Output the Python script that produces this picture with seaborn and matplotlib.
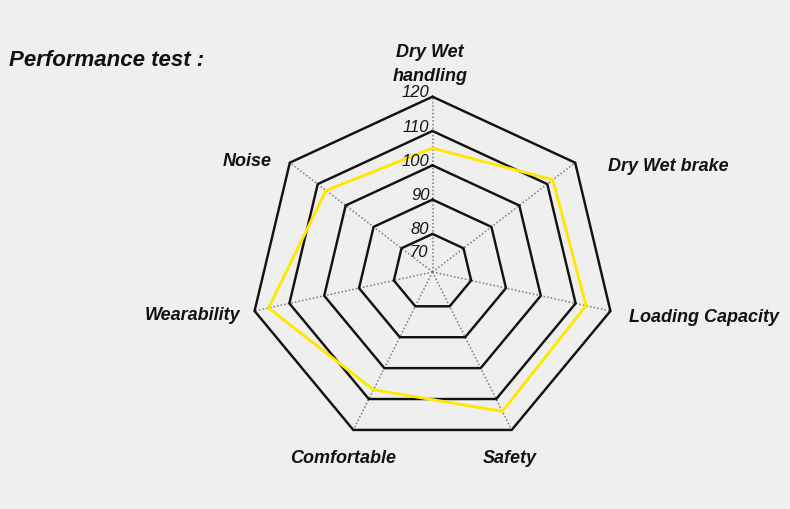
import numpy as np
import matplotlib
matplotlib.use('Agg')
import matplotlib.pyplot as plt
import seaborn as sns
import pandas as pd

# ---- data ----
categories = ["Dry Wet\nhandling", "Dry Wet brake", "Loading Capacity", "Safety",
              "Comfortable", "Wearability", "Noise"]
values = [105, 112, 113, 114, 107, 116, 107]
ring_levels = [80, 90, 100, 110, 120]
tick_values = [70, 80, 90, 100, 110, 120]
tick_labels = ["70", "80", "90", "100", "110", "120"]
title = "Performance test :"

sns.set_theme(style="white")
plt.rcParams['font.family'] = ['Liberation Sans', 'DejaVu Sans']

BG = '#efefef'
W, H = 790, 510
fig = plt.figure(figsize=(7.9, 5.1), dpi=100, facecolor=BG)

cx, cy = 432.5, 273.0      # centre in pixels (from top-left)
rx, ry = 182.5, 175.3      # outer radii in pixels
ax = fig.add_axes([(cx - rx) / W, (H - cy - ry) / H, 2 * rx / W, 2 * ry / H],
                  projection='polar')
ax.set_aspect('auto')
ax.set_facecolor('none')
ax.set_theta_offset(np.pi / 2)
ax.set_theta_direction(-1)

n = len(categories)
theta = np.arange(n) * 2 * np.pi / n
theta_c = np.append(theta, 2 * np.pi)
rmin = 68.9
ax.set_ylim(rmin, 120)

# dotted spokes
for t in theta:
    ax.plot([t, t], [rmin, 120], color='#7a7a7a', lw=1.1, ls=(0, (1, 1.4)),
            clip_on=False, zorder=1)
# heptagon rings
for lv in ring_levels:
    ax.plot(theta_c, [lv] * (n + 1), color='#141111', lw=1.75, clip_on=False,
            solid_joinstyle='miter', zorder=2)

df = pd.DataFrame({'theta': theta_c, 'value': values + values[:1]})
sns.lineplot(data=df, x='theta', y='value', sort=False, estimator=None, ax=ax,
             color='#ffe800', lw=2.1, clip_on=False, zorder=3)

ax.grid(False)
ax.set_xticks([])
ax.set_yticks([])
ax.set_xlabel('')
ax.set_ylabel('')
ax.spines['polar'].set_visible(False)

# radial tick labels
for v, lab in zip(tick_values, tick_labels):
    dy = 16.5 if v == 70 else 5
    dx = -5 if v == 70 else -3
    ax.annotate(lab, xy=(0, v), xytext=(dx, dy), textcoords='offset pixels',
                ha='right', va='center', fontsize=12, style='italic',
                color='#141111', annotation_clip=False)

# category labels
lab_pos = [(430, 64.5, 'center'), (608, 167, 'left'), (629, 318, 'left'),
           (510, 459, 'center'), (343, 459, 'center'), (240, 315, 'right'),
           (272, 161, 'right')]
for lab, (x, y, ha) in zip(categories, lab_pos):
    fig.text(x / W, 1 - y / H, lab, ha=ha, va='center', fontsize=13,
             fontweight='bold', style='italic', color='#141111',
             linespacing=1.5, multialignment='center')

fig.text(9 / W, 1 - 60 / H, title, ha='left', va='center', fontsize=16,
         fontweight='bold', style='italic', color='#141111')

fig.savefig('out.png', dpi=100, facecolor=BG)
